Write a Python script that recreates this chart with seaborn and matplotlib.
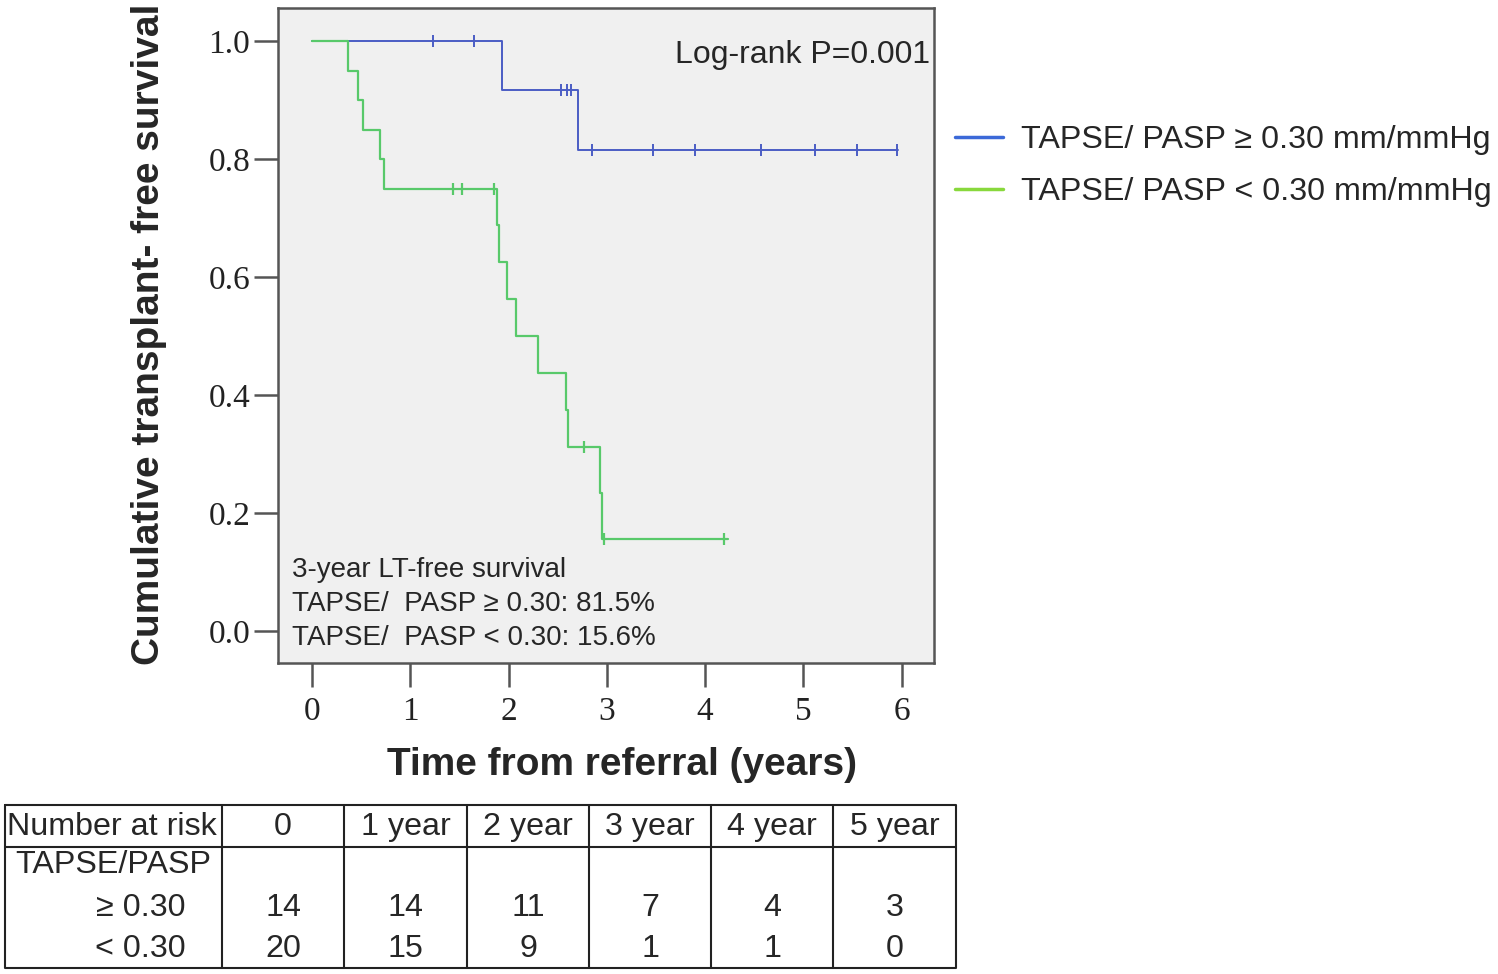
import numpy as np
import pandas as pd
import seaborn as sns
import matplotlib.pyplot as plt
from matplotlib.lines import Line2D

# Kaplan-Meier steps
high_times = [0.0, 1.93, 2.71, 5.96]
high_surv = [1.0, 0.917, 0.815, 0.815]
high_censor = [1.23, 1.65, 2.53, 2.60, 2.64, 2.85, 3.47, 3.90, 4.57, 5.12, 5.55, 5.95]

low_times = [0.0, 0.37, 0.47, 0.52, 0.69, 0.73, 1.88, 1.90, 1.98, 2.08, 2.30, 2.58, 2.61, 2.93, 2.95, 4.23]
low_surv = [1.0, 0.95, 0.90, 0.85, 0.80, 0.75, 0.6875, 0.625, 0.5625, 0.5, 0.4375, 0.375, 0.3125, 0.234, 0.156, 0.156]
low_censor = [1.43, 1.53, 1.85, 2.77, 2.97, 4.19]

group_labels = ["TAPSE/ PASP \u2265 0.30 mm/mmHg", "TAPSE/ PASP < 0.30 mm/mmHg"]

# number at risk table
risk_cols = ["0", "1 year", "2 year", "3 year", "4 year", "5 year"]
risk_high = [14, 14, 11, 7, 4, 3]
risk_low = [20, 15, 9, 1, 1, 0]

surv_text = ["3-year LT-free survival",
             "TAPSE/  PASP \u2265 0.30: 81.5%",
             "TAPSE/  PASP < 0.30: 15.6%"]

blue = "#4a5cc4"
green = "#58c96a"

sns.set_style("white")
plt.rcParams['font.family'] = ['Liberation Sans', 'DejaVu Sans']

def surv_at(times, surv, t):
    idx = np.searchsorted(times, t, side='right') - 1
    return surv[idx]

fig = plt.figure(figsize=(14.98, 9.74), dpi=100)
ax = fig.add_axes([278 / 1498, 1 - 663 / 974, 656 / 1498, 655 / 974])
ax.set_facecolor("#f0f0f0")

high_df = pd.DataFrame({"t": high_times, "s": high_surv})
low_df = pd.DataFrame({"t": low_times, "s": low_surv})
sns.lineplot(data=high_df, x="t", y="s", estimator=None, drawstyle="steps-post",
             color=blue, lw=1.4, ax=ax, zorder=2)
sns.lineplot(data=low_df, x="t", y="s", estimator=None, drawstyle="steps-post",
             color=green, lw=1.6, ax=ax, zorder=3)

hc = pd.DataFrame({"t": high_censor, "s": [surv_at(high_times, high_surv, t) for t in high_censor]})
lc = pd.DataFrame({"t": low_censor, "s": [surv_at(low_times, low_surv, t) for t in low_censor]})
sns.scatterplot(data=hc, x="t", y="s", marker="|", s=80, color=blue, linewidth=1.4, ax=ax, zorder=4)
sns.scatterplot(data=lc, x="t", y="s", marker="|", s=80, color=green, linewidth=1.6, ax=ax, zorder=4)

ax.set_xlim(-0.346, 6.33)
ax.set_ylim(-0.054, 1.056)
ax.set_xticks(range(0, 7))
ax.set_yticks([0.0, 0.2, 0.4, 0.6, 0.8, 1.0])
ax.set_yticklabels(["0.0", "0.2", "0.4", "0.6", "0.8", "1.0"])
for sp in ax.spines.values():
    sp.set_color("#555555")
    sp.set_linewidth(1.8)
ax.tick_params(axis="both", which="major", bottom=True, left=True, direction="out",
               length=17, width=1.8, color="#555555", labelsize=24, labelcolor="#222222")
ax.tick_params(axis="x", pad=7)
ax.tick_params(axis="y", pad=3)
for lab in ax.get_xticklabels() + ax.get_yticklabels():
    lab.set_fontfamily("Liberation Serif")

ax.set_xlabel("Time from referral (years)", fontsize=28, fontweight="bold")
ax.set_ylabel("Cumulative transplant- free survival", fontsize=28, fontweight="bold")
ax.xaxis.set_label_coords(0.524, -0.128)
ax.yaxis.set_label_coords(-0.169, 0.502)

ax.text(6.29, 0.976, "Log-rank P=0.001", ha="right", va="center", fontsize=23)
for i, line in enumerate(surv_text):
    ax.text(-0.20, 0.103 - i * 0.057, line, ha="left", va="center", fontsize=20)

handles = [Line2D([], [], color="#3b69d8", lw=2.5), Line2D([], [], color="#88d83c", lw=2.5)]
fig.legend(handles, group_labels, loc="upper left", bbox_to_anchor=(955 / 1498, 1 - 125 / 974),
           frameon=False, fontsize=23.2, handlelength=1.5, handletextpad=0.55,
           labelspacing=0.68, borderpad=0, borderaxespad=0)

# number-at-risk table drawn in pixel coordinates
tab = fig.add_axes([0, 0, 1, 1])
tab.set_xlim(0, 1498)
tab.set_ylim(974, 0)
tab.axis("off")
col_edges = [5, 222, 344, 467, 589, 711, 833, 956]
top, mid, bot = 805, 847, 968
lc_ = "#222222"
tab.plot([col_edges[0], col_edges[-1], col_edges[-1], col_edges[0], col_edges[0]],
         [top, top, bot, bot, top], color=lc_, lw=1.5)
tab.plot([col_edges[0], col_edges[-1]], [mid, mid], color=lc_, lw=1.5)
for xe in col_edges[1:-1]:
    tab.plot([xe, xe], [top, bot], color=lc_, lw=1.5)

fs = 23.2
tab.text(7, 827, "Number at risk", ha="left", va="center", fontsize=fs)
tab.text(113, 865, "TAPSE/PASP", ha="center", va="center", fontsize=fs)
tab.text(186, 908, "\u2265 0.30", ha="right", va="center", fontsize=fs)
tab.text(186, 949, "< 0.30", ha="right", va="center", fontsize=fs)
for j, col in enumerate(risk_cols):
    cx = (col_edges[j + 1] + col_edges[j + 2]) / 2
    tab.text(cx, 827, col, ha="center", va="center", fontsize=fs)
    tab.text(cx, 908, str(risk_high[j]), ha="center", va="center", fontsize=fs)
    tab.text(cx, 949, str(risk_low[j]), ha="center", va="center", fontsize=fs)

fig.savefig("out.png", dpi=100)
